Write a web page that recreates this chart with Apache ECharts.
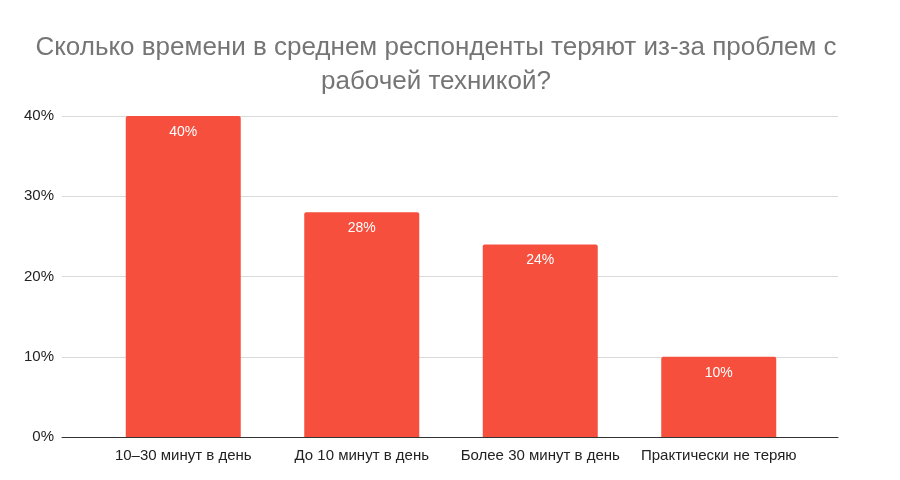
<!DOCTYPE html>
<html>
<head>
<meta charset="utf-8">
<script src="https://cdn.jsdelivr.net/npm/echarts@6/dist/echarts.min.js"></script>
<style>html,body{margin:0;padding:0;background:#fff}#c{width:900px;height:480px}</style>
</head>
<body>
<div id="c"></div>
<script>
const titleText = "Сколько времени в среднем респонденты теряют из-за проблем с\nрабочей техникой?";
const categories = ["10–30 минут в день", "До 10 минут в день", "Более 30 минут в день", "Практически не теряю"];
const values = [40, 28, 24, 10];
const yTicks = [0, 10, 20, 30, 40];

const chart = echarts.init(document.getElementById('c'), null, {renderer: 'canvas'});
const font = '"Liberation Sans", Arial, sans-serif';
chart.setOption({
  backgroundColor: '#fff',
  animation: false,
  textStyle: {fontFamily: font},
  title: {
    text: titleText,
    left: 431,
    top: 26,
    textAlign: 'center',
    textStyle: {fontFamily: font, fontSize: 26, fontWeight: 'normal', color: '#757575', lineHeight: 34}
  },
  grid: [
    {left: 62, right: 62, top: 116, bottom: 43},
    {left: 94, right: 92, top: 116, bottom: 43}
  ],
  xAxis: [
    {gridIndex: 0, type: 'value', min: 0, max: 1, show: true,
     axisLine: {show: true, lineStyle: {color: '#333', width: 1}},
     axisTick: {show: false}, axisLabel: {show: false}, splitLine: {show: false}},
    {gridIndex: 1, type: 'category', data: categories,
     axisLine: {show: false}, axisTick: {show: false},
     axisLabel: {color: '#222', fontSize: 15, fontFamily: font, margin: 11, interval: 0}}
  ],
  yAxis: [
    {gridIndex: 0, type: 'value', min: yTicks[0], max: yTicks[yTicks.length-1], interval: 10,
     axisLine: {show: false}, axisTick: {show: false},
     axisLabel: {formatter: v => v + '%', color: '#222', fontSize: 15, fontFamily: font, margin: 8},
     splitLine: {lineStyle: {color: '#d9d9d9', width: 1}}},
    {gridIndex: 1, type: 'value', min: 0, max: 40, show: false, splitLine: {show: false}}
  ],
  series: [{
    type: 'bar',
    xAxisIndex: 1,
    yAxisIndex: 1,
    data: values,
    barWidth: 115,
    itemStyle: {color: '#f74f3e', borderRadius: [2, 2, 0, 0]},
    label: {show: true, position: 'insideTop', distance: 9, formatter: p => p.value + '%',
            color: '#fff', fontSize: 14, fontFamily: font}
  }]
});
</script>
</body>
</html>
